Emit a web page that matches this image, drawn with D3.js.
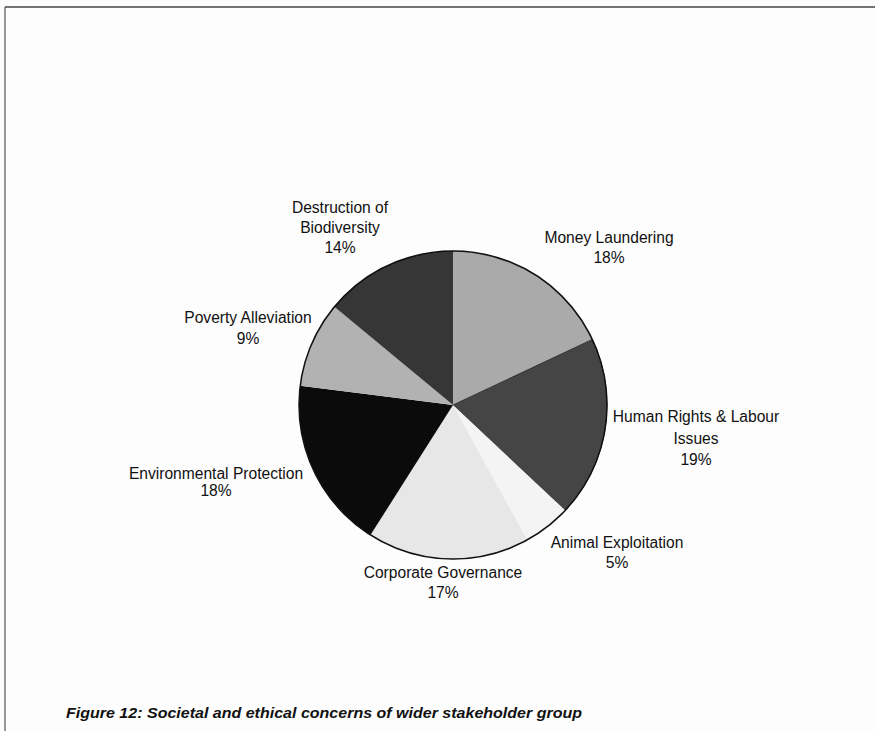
<!DOCTYPE html>
<html>
<head>
<meta charset="utf-8">
<script src="https://cdn.jsdelivr.net/npm/d3@7"></script>
<style>
  html, body { margin: 0; padding: 0; background: #fdfdfd; }
  svg { display: block; }
  text { font-family: "Liberation Sans", Arial, Helvetica, sans-serif; fill: #111; }
</style>
</head>
<body>
<svg id="chart" width="875" height="731"></svg>
<script>
const categories = ["Money Laundering", "Human Rights & Labour Issues", "Animal Exploitation",
  "Corporate Governance", "Environmental Protection", "Poverty Alleviation", "Destruction of Biodiversity"];
const values = [18, 19, 5, 17, 18, 9, 14];
const labelLines = [
  ["Money Laundering"],
  ["Human Rights & Labour", "Issues"],
  ["Animal Exploitation"],
  ["Corporate Governance"],
  ["Environmental Protection"],
  ["Poverty Alleviation"],
  ["Destruction of", "Biodiversity"]
];
const sliceColors = ["#aaaaaa", "#454545", "#f4f4f4", "#e7e7e7", "#0b0b0b", "#b2b2b2", "#363636"];
const caption = "Figure 12:  Societal and ethical concerns of wider stakeholder group";

// label anchor positions (centre x, baseline of first line) and line spacing
const labelPos = [
  {x: 609, y: 243, dy: 20},
  {x: 696, y: 422, dy: 21.5},
  {x: 617, y: 548, dy: 20},
  {x: 443, y: 578, dy: 20},
  {x: 216, y: 478.5, dy: 17},
  {x: 248, y: 323, dy: 20.5},
  {x: 340, y: 213, dy: 20}
];

const svg = d3.select("#chart");
const W = 875, H = 731;

// frame
svg.append("line").attr("x1", 5).attr("y1", 7).attr("x2", W).attr("y2", 7)
  .attr("stroke", "#444").attr("stroke-width", 1.5);
svg.append("line").attr("x1", 5).attr("y1", 7).attr("x2", 5).attr("y2", H)
  .attr("stroke", "#555").attr("stroke-width", 1.2);

const cx = 453, cy = 405, r = 154;
const pie = d3.pie().sort(null).value(d => d)(values);
const arc = d3.arc().innerRadius(0).outerRadius(r);

const g = svg.append("g").attr("transform", `translate(${cx},${cy})`);
g.selectAll("path.slice").data(pie).join("path")
  .attr("class", "slice")
  .attr("d", arc)
  .attr("fill", (d, i) => sliceColors[i])
  .attr("stroke", (d, i) => i === 1 ? "#222" : "none")
  .attr("stroke-width", 0.8);
g.append("circle").attr("r", r).attr("fill", "none").attr("stroke", "#111").attr("stroke-width", 1.5);

// labels
const lg = svg.append("g");
categories.forEach((c, i) => {
  const lines = labelLines[i].concat([values[i] + "%"]);
  const p = labelPos[i];
  lines.forEach((t, k) => {
    lg.append("text")
      .attr("x", p.x).attr("y", p.y + k * p.dy)
      .attr("text-anchor", "middle")
      .attr("font-size", 15.6)
      .text(t);
  });
});

// caption
svg.append("text")
  .attr("x", 66).attr("y", 718)
  .attr("font-size", 15)
  .attr("font-weight", "bold")
  .attr("font-style", "italic")
  .attr("textLength", 516)
  .attr("lengthAdjust", "spacingAndGlyphs")
  .text(caption);
</script>
</body>
</html>
